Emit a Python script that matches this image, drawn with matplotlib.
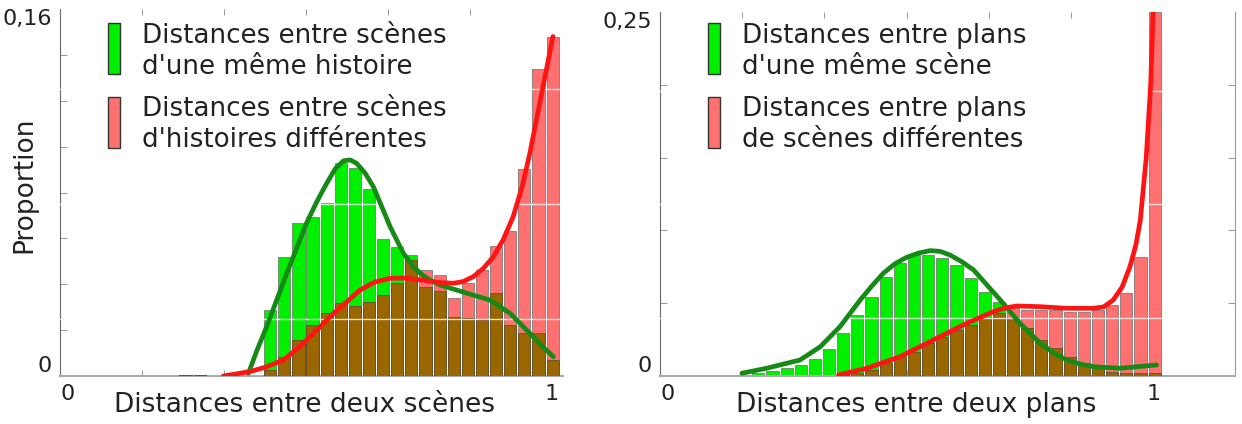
import numpy as np
import matplotlib.pyplot as plt
from matplotlib.patches import Rectangle

# ==========================================
# DATA
# ==========================================

bin_width = 0.0287

# left panel : scenes
left_start = 0.212
left_green = [0, 0.0005, 0.0005, 0, 0, 0, 0,
              0.0288, 0.052, 0.0668, 0.0692, 0.0756, 0.093, 0.0905,
              0.0814, 0.0596, 0.0561, 0.0527, 0.0388, 0.037, 0.0259,
              0.0251, 0.0244, 0.036, 0.0222, 0.0189, 0.0189, 0.007]
left_red = [0, 0.0005, 0.0005, 0, 0, 0, 0,
            0.0026, 0.0084, 0.0157, 0.0222, 0.0275, 0.0318, 0.0305,
            0.0323, 0.0353, 0.0404, 0.0506, 0.0462, 0.044, 0.0339,
            0.0404, 0.0462, 0.0567, 0.0634, 0.0901, 0.134, 0.148]

left_green_curve_x = [0.383, 0.400, 0.420, 0.461, 0.501, 0.522, 0.542, 0.560, 0.576, 0.590,
                      0.603, 0.620, 0.637, 0.671, 0.698, 0.715, 0.732, 0.752, 0.772, 0.827,
                      0.874, 0.915, 0.955, 0.980, 1.003]
left_green_curve_y = [0.0012, 0.0110, 0.0215, 0.0448, 0.0666, 0.0760, 0.0840, 0.0905, 0.0938, 0.0942,
                      0.0927, 0.0885, 0.0825, 0.0651, 0.0535, 0.0485, 0.0448, 0.0418, 0.0397, 0.0361,
                      0.0331, 0.0273, 0.0186, 0.0130, 0.0084]
left_red_curve_x = [0.332, 0.386, 0.420, 0.454, 0.480, 0.508, 0.556, 0.610, 0.640, 0.671,
                    0.700, 0.732, 0.770, 0.799, 0.820, 0.840, 0.860, 0.881, 0.901, 0.921,
                    0.940, 0.955, 0.978, 1.002]
left_red_curve_y = [0.0, 0.0019, 0.0040, 0.0070, 0.0115, 0.0171, 0.0273, 0.0375, 0.0410, 0.0426,
                    0.0427, 0.0419, 0.0408, 0.0404, 0.0412, 0.0433, 0.0468, 0.0520, 0.0595, 0.0694,
                    0.0830, 0.0971, 0.122, 0.148]

# right panel : shots
right_start = 0.185
right_green = [0.0023, 0.0034, 0.0053, 0.0076, 0.0120, 0.0183, 0.0293, 0.0419,
               0.0545, 0.0678, 0.0774, 0.0831, 0.0831, 0.0808, 0.0763, 0.0671,
               0.0579, 0.0510, 0.040, 0.0328, 0.0247, 0.019, 0.0133, 0.0087,
               0.0053, 0.003, 0.0023, 0.002, 0.002]
right_red = [0, 0, 0, 0, 0, 0, 0.001, 0.002,
             0.0041, 0.0087, 0.0133, 0.0167, 0.0225, 0.027, 0.0316, 0.035,
             0.0396, 0.0431, 0.0465, 0.0453, 0.0453, 0.0453, 0.0442, 0.0442,
             0.0453, 0.0488, 0.0568, 0.082, 0.25]

right_green_curve_x = [0.166, 0.216, 0.284, 0.325, 0.365, 0.406, 0.430, 0.453, 0.476, 0.500,
                       0.525, 0.548, 0.568, 0.588, 0.612, 0.636, 0.690, 0.730, 0.771, 0.800,
                       0.825, 0.852, 0.879, 0.933, 1.007]
right_green_curve_y = [0.0019, 0.0053, 0.011, 0.0201, 0.0339, 0.0522, 0.0620, 0.0706, 0.0770, 0.0815,
                       0.0845, 0.0861, 0.0856, 0.0831, 0.0785, 0.0728, 0.0522, 0.0362, 0.0225, 0.0155,
                       0.0110, 0.0082, 0.0064, 0.0053, 0.0076]
right_red_curve_x = [0.362, 0.419, 0.487, 0.554, 0.622, 0.676, 0.700, 0.724, 0.771, 0.825,
                     0.879, 0.900, 0.919, 0.937, 0.953, 0.965, 0.974, 0.986, 0.995, 1.0]
right_red_curve_y = [0.0007, 0.0053, 0.0133, 0.0247, 0.0362, 0.0442, 0.0468, 0.0481, 0.0476, 0.0465,
                     0.0465, 0.0475, 0.0522, 0.0610, 0.0751, 0.0900, 0.107, 0.150, 0.200, 0.25]

left_grid = [0.025, 0.075, 0.125]
right_grid = [0.04, 0.118, 0.196]

# ==========================================
# STYLE
# ==========================================

GREEN = "#00f000"
PINK = "#ff7070"
BROWN = "#9a6600"
GREEN_LINE = "#168a16"
RED_LINE = "#ff1414"
TXT = "#222222"

plt.rcParams["font.family"] = ["DejaVu Sans"]

fig = plt.figure(figsize=(12.42, 4.24), dpi=100)
ax1 = fig.add_axes([60 / 1242, 48 / 424, 503 / 1242, 367 / 424])
ax2 = fig.add_axes([660 / 1242, 48 / 424, 575 / 1242, 364 / 424])


def draw_panel(ax, start, green, red, gx, gy, rx, ry, grid, ymax, xmax,
               ytop_label, ystep, xlabel, xlabel_pos, leg1, leg2, show_right):
    green = np.array(green)
    red = np.array(red)
    centers = start + bin_width * (np.arange(len(green)) + 0.5)
    w = bin_width * 0.86
    ax.bar(centers, green, width=w, color=GREEN, edgecolor="#6a6a6a", linewidth=0.5, zorder=2)
    ax.bar(centers, red, width=w, color=PINK, edgecolor="#6a6a6a", linewidth=0.5, zorder=3)
    ax.bar(centers, np.minimum(green, red), width=w, color=BROWN,
           edgecolor="#5a4a2a", linewidth=0.5, zorder=4)

    for g in grid:
        ax.axhline(g, color="white", linewidth=1.0, alpha=0.8, zorder=5)

    ax.plot(gx, gy, color=GREEN_LINE, linewidth=3.4, zorder=6,
            solid_joinstyle="round", solid_capstyle="round")
    ax.plot(rx, ry, color=RED_LINE, linewidth=3.4, zorder=7,
            solid_joinstyle="round", solid_capstyle="round")

    ax.set_xlim(0, xmax)
    ax.set_ylim(0, ymax)

    ax.spines["top"].set_visible(False)
    ax.spines["left"].set_color("#666666")
    ax.spines["bottom"].set_color("#aaaaaa")
    ax.spines["bottom"].set_linewidth(1.5)
    if show_right:
        ax.spines["right"].set_color("#999999")
    else:
        ax.spines["right"].set_visible(False)

    ax.set_xticks([0, 1])
    ax.set_xticklabels(["0", "1"], fontsize=16, color=TXT)
    ax.get_xticklabels()[0].set_ha("left")
    ax.set_xticks(np.arange(0, 1.01, 1 / 6), minor=True)
    ax.set_yticks([0, ymax])
    ax.set_yticklabels(["0", ytop_label], fontsize=16, color=TXT)
    ax.get_yticklabels()[0].set_va("bottom")
    ax.get_yticklabels()[1].set_va("top")
    ax.set_yticks(np.arange(0, ymax + 1e-9, ystep), minor=True)

    ax.tick_params(axis="x", which="major", length=0, pad=6)
    ax.tick_params(axis="x", which="minor", direction="in", length=4,
                   top=True, bottom=True, color="#888888")
    ax.tick_params(axis="y", which="major", length=0, pad=6)
    ax.tick_params(axis="y", which="minor", direction="in", length=5,
                   left=True, right=show_right, color="#888888")

    ax.text(xlabel_pos, -0.079, xlabel, transform=ax.transAxes, fontsize=19,
            color=TXT, ha="center", va="center")

    # legend drawn by hand
    bbox = ax.get_position()
    fw = bbox.width * 1242
    fh = bbox.height * 424
    top_px = 424 - (bbox.y0 + bbox.height) * 424
    x_patch = 48 / fw
    wpatch = 12 / fw
    x_text = 82 / fw

    def fy(y_px):
        return 1 - (y_px - top_px) / fh

    ax.add_patch(Rectangle((x_patch, fy(74)), wpatch, fy(23) - fy(74), transform=ax.transAxes,
                           facecolor=GREEN, edgecolor="#333333", linewidth=1.0, zorder=8))
    ax.add_patch(Rectangle((x_patch, fy(148)), wpatch, fy(97) - fy(148), transform=ax.transAxes,
                           facecolor=PINK, edgecolor="#333333", linewidth=1.0, zorder=8))
    ax.text(x_text, fy(51.5), leg1, transform=ax.transAxes, fontsize=18.8, color=TXT,
            ha="left", va="center", linespacing=1.24, zorder=8)
    ax.text(x_text, fy(124.5), leg2, transform=ax.transAxes, fontsize=18.8, color=TXT,
            ha="left", va="center", linespacing=1.24, zorder=8)


draw_panel(ax1, left_start, left_green, left_red,
           left_green_curve_x, left_green_curve_y, left_red_curve_x, left_red_curve_y,
           left_grid, 0.16, 1.0224, "0,16", 0.02,
           "Distances entre deux scènes", 0.487,
           "Distances entre scènes\nd'une même histoire",
           "Distances entre scènes\nd'histoires différentes", False)

draw_panel(ax2, right_start, right_green, right_red,
           right_green_curve_x, right_green_curve_y, right_red_curve_x, right_red_curve_y,
           right_grid, 0.25, 1.166, "0,25", 0.05,
           "Distances entre deux plans", 0.445,
           "Distances entre plans\nd'une même scène",
           "Distances entre plans\nde scènes différentes", True)

ax1.set_ylabel("Proportion", fontsize=19, color=TXT)
ax1.yaxis.set_label_coords(-0.044, 0.52)

fig.savefig("out.png", dpi=100)
plt.close()
